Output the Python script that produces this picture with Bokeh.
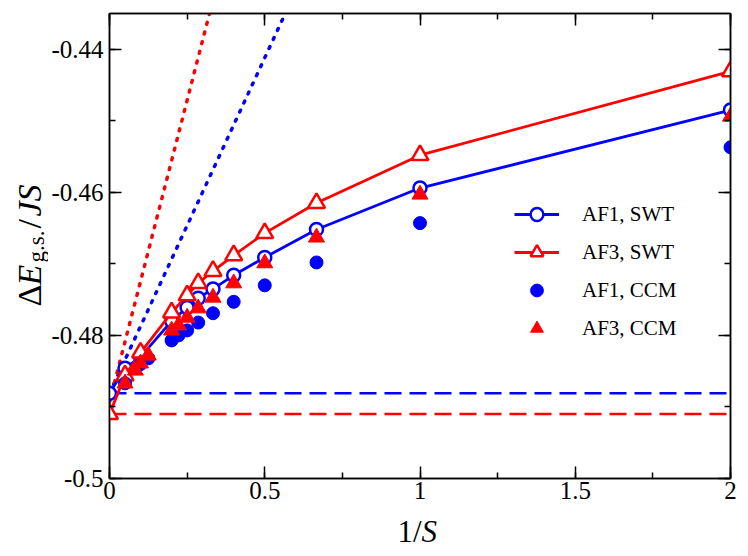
from bokeh.plotting import figure
from bokeh.layouts import column, row
from bokeh.models import (Range1d, LinearAxis, SingleIntervalTicker, CustomJSTickFormatter,
                          Label, Legend, LegendItem)
from bokeh.embed import file_html
from bokeh.resources import INLINE

# ---------------- data ----------------
x_swt = [0, 0.05, 0.1, 0.2, 0.25, 0.2857, 0.3333, 0.4, 0.5, 0.6667, 1, 2]
af1_swt = [-0.4881, -0.4846, -0.4830, -0.4780, -0.4761, -0.4748, -0.4735, -0.4716,
           -0.4691, -0.4652, -0.4594, -0.4485]
af3_swt = [-0.4910, -0.4856, -0.4824, -0.4768, -0.4744, -0.4727, -0.4710, -0.4688,
           -0.4657, -0.4615, -0.4548, -0.4431]

x_af1_ccm = [0.05, 0.1, 0.125, 0.2, 0.2222, 0.25, 0.2857, 0.3333, 0.4, 0.5, 0.6667, 1, 2]
af1_ccm = [-0.4867, -0.4840, -0.4832, -0.4807, -0.4800, -0.4793, -0.4782, -0.4769,
           -0.4753, -0.4730, -0.4698, -0.4643, -0.4537]

x_af3_ccm = [0.05, 0.0833, 0.1, 0.125, 0.2, 0.2222, 0.25, 0.2857, 0.3333, 0.4, 0.5, 0.6667, 1, 2]
af3_ccm = [-0.4867, -0.4849, -0.4839, -0.4828, -0.4793, -0.4786, -0.4775, -0.4762,
           -0.4747, -0.4727, -0.4699, -0.4663, -0.4603, -0.4494]

# linear (dotted) extrapolations and asymptotic (dashed) values
x_af1_lin = [0, 0.566]
y_af1_lin = [-0.4881, -0.435]
x_af3_lin = [0, 0.322]
y_af3_lin = [-0.4893, -0.435]
x_asym = [0, 2]
y_af1_asym = [-0.4881, -0.4881]
y_af3_asym = [-0.4910, -0.4910]

legend_labels = ["AF1, SWT", "AF3, SWT", "AF1, CCM", "AF3, CCM"]

x_ticks_step = 0.5
y_ticks_step = 0.02

BLUE = "#0000ff"
RED = "#ff0000"
FONT = "Liberation Serif"

YLAB_W = 48
MAIN_H = 510

p = figure(width=748 - YLAB_W, height=MAIN_H, output_backend="svg", toolbar_location=None,
           x_range=Range1d(0, 2), y_range=Range1d(-0.5, -0.435),
           x_axis_type=None, y_axis_type=None,
           min_border_left=108 - YLAB_W, min_border_right=18, min_border_top=13,
           min_border_bottom=MAIN_H - 13 - 465)
p.outline_line_color = "black"
p.outline_line_width = 1.5
p.background_fill_color = "white"
p.border_fill_color = "white"

fmt = CustomJSTickFormatter(code="return String(Number(tick.toFixed(3)));")
blank = CustomJSTickFormatter(code="return '';")


def make_axis(ticker, show):
    ax = LinearAxis(ticker=ticker, formatter=fmt if show else blank)
    ax.axis_line_width = 1.5
    ax.axis_line_color = "black"
    ax.major_tick_in = 12
    ax.major_tick_out = 0
    ax.minor_tick_in = 6
    ax.minor_tick_out = 0
    ax.major_tick_line_width = 1.5
    ax.minor_tick_line_width = 1.5
    ax.major_tick_line_color = "black"
    ax.minor_tick_line_color = "black"
    ax.major_label_text_font = FONT
    ax.major_label_text_color = "black"
    if show:
        ax.major_label_text_font_size = "25px"
    else:
        ax.major_label_text_font_size = "1px"
        ax.major_label_standoff = 0
    return ax


xt = SingleIntervalTicker(interval=x_ticks_step, num_minor_ticks=2)
yt = SingleIntervalTicker(interval=y_ticks_step, num_minor_ticks=2)
xb = make_axis(xt, True)
xb.major_label_standoff = 3
yl = make_axis(yt, True)
yl.major_label_standoff = 6
p.add_layout(xb, "below")
p.add_layout(yl, "left")
p.add_layout(make_axis(xt, False), "above")
p.add_layout(make_axis(yt, False), "right")

# reference lines
p.line(x_af1_lin, y_af1_lin, line_color=BLUE, line_width=3.5, line_dash="2 8", line_cap="round")
p.line(x_af3_lin, y_af3_lin, line_color=RED, line_width=3.5, line_dash="2 8", line_cap="round")
p.line(x_asym, y_af1_asym, line_color=BLUE, line_width=2.5, line_dash="17 8")
p.line(x_asym, y_af3_asym, line_color=RED, line_width=2.5, line_dash="17 8")

# SWT series
l1 = p.line(x_swt, af1_swt, line_color=BLUE, line_width=2.8)
s1 = p.scatter(x_swt, af1_swt, marker="circle", size=13, line_color=BLUE, line_width=2.5,
               fill_color="white")
l3 = p.line(x_swt, af3_swt, line_color=RED, line_width=2.8)
s3 = p.scatter(x_swt, af3_swt, marker="triangle", size=17, line_color=RED, line_width=2.5,
               fill_color="white")

# CCM series
c1 = p.scatter(x_af1_ccm, af1_ccm, marker="circle", size=13, line_color=BLUE, fill_color=BLUE)
c3 = p.scatter(x_af3_ccm, af3_ccm, marker="triangle", size=16, line_color=RED, fill_color=RED)

legend = Legend(items=[
    LegendItem(label=legend_labels[0], renderers=[l1, s1]),
    LegendItem(label=legend_labels[1], renderers=[l3, s3]),
    LegendItem(label=legend_labels[2], renderers=[c1]),
    LegendItem(label=legend_labels[3], renderers=[c3]),
], location=(405, 134), glyph_width=45, glyph_height=32, label_height=32, spacing=6,
    padding=0, margin=0, label_standoff=23, border_line_color=None,
    background_fill_alpha=0, label_text_font=FONT, label_text_font_size="21px",
    label_text_baseline="middle", label_text_color="black")
p.add_layout(legend)


def text_panel(w, h):
    f = figure(width=w, height=h, output_backend="svg", toolbar_location=None,
               x_axis_type=None, y_axis_type=None, x_range=Range1d(0, 1), y_range=Range1d(0, 1),
               min_border=0, min_border_left=0, min_border_right=0, min_border_top=0,
               min_border_bottom=0)
    f.outline_line_color = None
    f.background_fill_color = "white"
    f.border_fill_color = "white"
    return f


# y title: ΔE_{g.s.}/JS, rotated, in its own narrow panel
ylab = text_panel(YLAB_W, MAIN_H)
ANG = 1.5707963
BASE_X = 29
pieces = [("Δ", "normal", 34, 0, 218), ("E", "italic", 34, 0, 239),
          ("g.s.", "normal", 23, 7, 262), ("/", "normal", 34, 0, 296),
          ("JS", "italic", 34, 0, 308)]
for txt, style, fs, shift, ypos in pieces:
    ylab.add_layout(Label(x=BASE_X + shift, y=ypos - (556 - MAIN_H), x_units="screen",
                          y_units="screen", text=txt, angle=ANG, text_font=FONT,
                          text_font_style=style, text_font_size=f"{fs}px",
                          text_baseline="alphabetic", text_align="left", text_color="black"))

# x title: 1/S in its own panel below
XLAB_H = 556 - MAIN_H
xlab = text_panel(748, XLAB_H)
xlab.add_layout(Label(x=397, y=XLAB_H - 21, x_units="screen", y_units="screen", text="1/",
                      text_font=FONT, text_font_size="31px", text_baseline="alphabetic",
                      text_color="black"))
xlab.add_layout(Label(x=421, y=XLAB_H - 21, x_units="screen", y_units="screen", text="S",
                      text_font=FONT, text_font_style="italic", text_font_size="31px",
                      text_baseline="alphabetic", text_color="black"))

layout = column(row(ylab, p, spacing=0), xlab, spacing=0)
open("out.html", "w").write(file_html(layout, INLINE))
